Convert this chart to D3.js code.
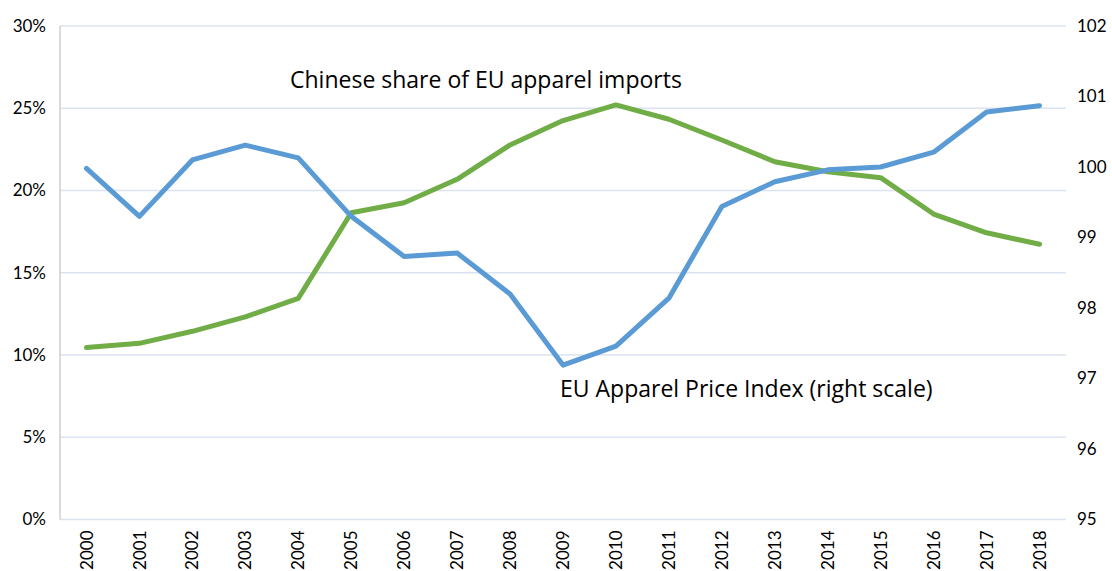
<!DOCTYPE html>
<html>
<head>
<meta charset="utf-8">
<script src="https://cdn.jsdelivr.net/npm/d3@7"></script>
<style>
  html, body { margin: 0; padding: 0; background: #fff; }
  svg { display: block; font-family: Lato, "Open Sans", sans-serif; }
</style>
</head>
<body>
<svg id="chart" width="1112" height="571"></svg>
<script>
var years = ["2000","2001","2002","2003","2004","2005","2006","2007","2008","2009",
             "2010","2011","2012","2013","2014","2015","2016","2017","2018"];

// Chinese share of EU apparel imports, % (left scale)
var chinaShare = [10.46, 10.71, 11.44, 12.32, 13.44, 18.65, 19.26, 20.68, 22.77, 24.25,
                  25.2, 24.33, 23.07, 21.75, 21.14, 20.78, 18.57, 17.43, 16.73];

// EU apparel price index (right scale)
var priceIndex = [99.98, 99.3, 100.1, 100.31, 100.13, 99.3, 98.73, 98.78, 98.2, 97.19,
                  97.46, 98.14, 99.44, 99.79, 99.96, 100.0, 100.21, 100.78, 100.87];

var leftTicks = [0, 5, 10, 15, 20, 25, 30];
var rightTicks = [95, 96, 97, 98, 99, 100, 101, 102];

var svg = d3.select("#chart");
// note: "top" is taken by window.top, so plot edges get their own names
var plotLeft = 60, plotRight = 1066, plotTop = 26, plotBottom = 519.5;

var x = d3.scaleBand().domain(years).range([plotLeft, plotRight]);
var yL = d3.scaleLinear().domain([0, 30]).range([plotBottom, plotTop]);
var yR = d3.scaleLinear().domain([95, 102]).range([plotBottom, plotTop]);

function cx(d) { return x(d) + x.bandwidth() / 2; }

// gridlines
svg.append("g")
  .selectAll("line")
  .data(leftTicks)
  .enter()
  .append("line")
  .attr("x1", plotLeft)
  .attr("x2", plotRight)
  .attr("y1", function(d) { return yL(d); })
  .attr("y2", function(d) { return yL(d); })
  .attr("stroke", "#dae3f1")
  .attr("stroke-width", 1.3);

// left axis line
svg.append("line")
  .attr("x1", plotLeft).attr("x2", plotLeft)
  .attr("y1", plotTop).attr("y2", plotBottom)
  .attr("stroke", "#c8c8c8")
  .attr("stroke-width", 1.3);

// left tick labels
var leftAxis = svg.append("g")
  .attr("transform", "translate(" + plotLeft + ",0)")
  .call(d3.axisLeft(yL).tickValues(leftTicks).tickSize(0).tickPadding(14)
    .tickFormat(function(d) { return d + "%"; }));
leftAxis.select(".domain").remove();

// right tick labels
var rightAxis = svg.append("g")
  .attr("transform", "translate(" + plotRight + ",0)")
  .call(d3.axisRight(yR).tickValues(rightTicks).tickSize(0).tickPadding(11)
    .tickFormat(d3.format("d")));
rightAxis.select(".domain").remove();

// year labels, rotated
var xAxis = svg.append("g")
  .attr("transform", "translate(0," + plotBottom + ")")
  .call(d3.axisBottom(x).tickSize(0));
xAxis.select(".domain").remove();

svg.selectAll(".tick text")
  .attr("fill", "#000")
  .style("font-size", "17px")
  .style("font-family", "Lato, 'Open Sans', sans-serif");

xAxis.selectAll("text")
  .attr("transform", "rotate(-90)")
  .attr("text-anchor", "end")
  .attr("x", -11)
  .attr("y", 0)
  .attr("dy", "0.36em");

// lines
var greenLine = d3.line()
  .x(function(d, i) { return cx(years[i]); })
  .y(function(d) { return yL(d); });

var blueLine = d3.line()
  .x(function(d, i) { return cx(years[i]); })
  .y(function(d) { return yR(d); });

svg.append("path")
  .datum(chinaShare)
  .attr("d", greenLine)
  .attr("fill", "none")
  .attr("stroke", "#70ad47")
  .attr("stroke-width", 5)
  .attr("stroke-linejoin", "round")
  .attr("stroke-linecap", "round");

svg.append("path")
  .datum(priceIndex)
  .attr("d", blueLine)
  .attr("fill", "none")
  .attr("stroke", "#5b9bd5")
  .attr("stroke-width", 5)
  .attr("stroke-linejoin", "round")
  .attr("stroke-linecap", "round");

// annotations
svg.append("text")
  .attr("x", 290)
  .attr("y", 88)
  .style("font-size", "23px")
  .style("font-family", "'Open Sans', Lato, sans-serif")
  .attr("fill", "#000")
  .text("Chinese share of EU apparel imports");

svg.append("text")
  .attr("x", 560)
  .attr("y", 397)
  .style("font-size", "23px")
  .style("font-family", "'Open Sans', Lato, sans-serif")
  .attr("fill", "#000")
  .text("EU Apparel Price Index (right scale)");
</script>
</body>
</html>
